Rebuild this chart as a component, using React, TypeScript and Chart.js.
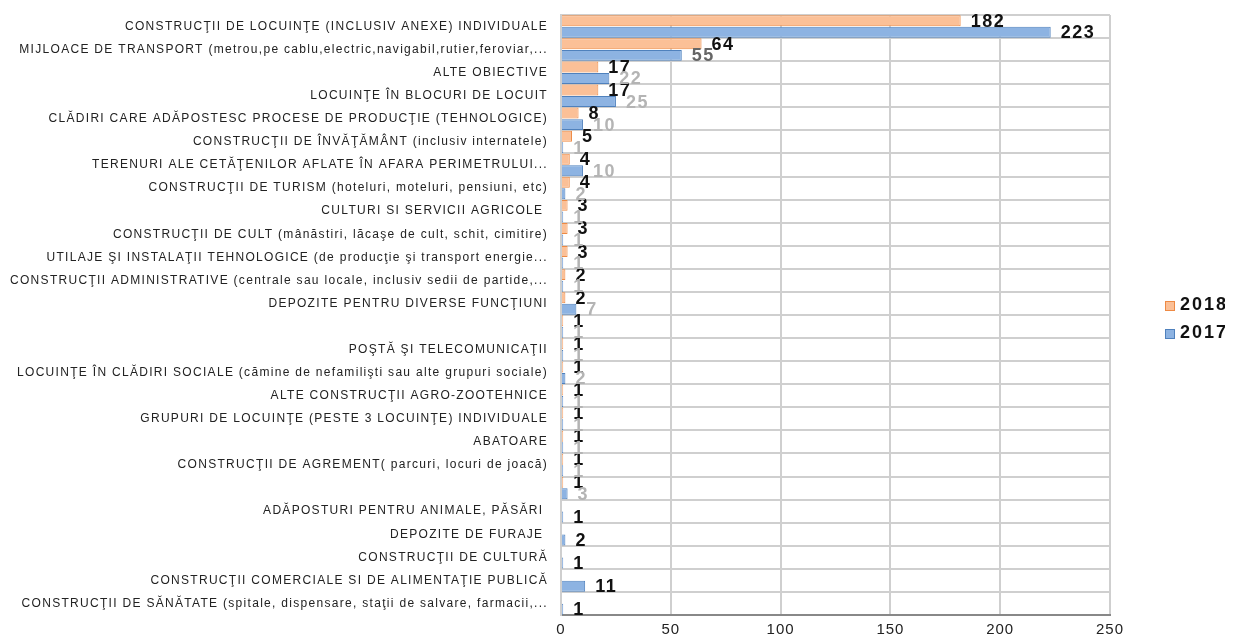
import React, { useEffect, useRef } from "react";
import { Chart, registerables } from "chart.js";

Chart.register(...registerables);

const categories: string[] = [
  "CONSTRUCŢII DE LOCUINŢE (INCLUSIV ANEXE) INDIVIDUALE",
  "MIJLOACE DE TRANSPORT (metrou,pe cablu,electric,navigabil,rutier,feroviar,...",
  "ALTE OBIECTIVE",
  "LOCUINŢE ÎN BLOCURI DE LOCUIT",
  "CLĂDIRI CARE ADĂPOSTESC PROCESE DE PRODUCŢIE (TEHNOLOGICE)",
  "CONSTRUCŢII DE ÎNVĂŢĂMÂNT (inclusiv internatele)",
  "TERENURI ALE CETĂŢENILOR AFLATE ÎN AFARA PERIMETRULUI...",
  "CONSTRUCŢII DE TURISM (hoteluri, moteluri, pensiuni, etc)",
  "CULTURI SI SERVICII AGRICOLE ",
  "CONSTRUCŢII DE CULT (mânăstiri, lăcaşe de cult, schit, cimitire)",
  "UTILAJE ŞI INSTALAŢII TEHNOLOGICE (de producţie şi transport energie...",
  "CONSTRUCŢII ADMINISTRATIVE (centrale sau locale, inclusiv sedii de partide,...",
  "DEPOZITE PENTRU DIVERSE FUNCŢIUNI",
  "",
  "POŞTĂ ŞI TELECOMUNICAŢII",
  "LOCUINŢE ÎN CLĂDIRI SOCIALE (cămine de nefamilişti sau alte grupuri sociale)",
  "ALTE CONSTRUCŢII AGRO-ZOOTEHNICE",
  "GRUPURI DE LOCUINŢE (PESTE 3 LOCUINŢE) INDIVIDUALE",
  "ABATOARE",
  "CONSTRUCŢII DE AGREMENT( parcuri, locuri de joacă)",
  "",
  "ADĂPOSTURI PENTRU ANIMALE, PĂSĂRI ",
  "DEPOZITE DE FURAJE ",
  "CONSTRUCŢII DE CULTURĂ",
  "CONSTRUCŢII COMERCIALE SI DE ALIMENTAŢIE PUBLICĂ",
  "CONSTRUCŢII DE SĂNĂTATE (spitale, dispensare, staţii de salvare, farmacii,...",
];

const values2018: (number | null)[] = [
  182, 64, 17, 17, 8, 5, 4, 4, 3, 3, 3, 2, 2, 1, 1, 1, 1, 1, 1, 1, 1,
  null, null, null, null, null,
];

const values2017: (number | null)[] = [
  223, 55, 22, 25, 10, 1, 10, 2, 1, 1, 1, 1, 7, 1, 1, 2, 1, 1, 1, 1, 3,
  1, 2, 1, 11, 1,
];

const seriesNames: string[] = ["2018", "2017"];
const xTicks: number[] = [0, 50, 100, 150, 200, 250];

const FONT = "'Liberation Sans', Arial, sans-serif";

function spacedLabels(scale: any, spacing: string) {
  if (scale.__ls) return;
  scale.__ls = true;
  const orig = scale.drawLabels.bind(scale);
  scale.drawLabels = (area: any) => {
    const c = scale.ctx;
    c.save();
    c.letterSpacing = spacing;
    orig(area);
    c.restore();
  };
}

const valueLabels = {
  id: "valueLabels",
  afterDatasetsDraw(chart: any) {
    const ctx = chart.ctx;
    ctx.save();
    ctx.font = `bold 18px ${FONT}`;
    ctx.letterSpacing = "1.5px";
    ctx.textBaseline = "middle";
    ctx.textAlign = "left";
    chart.data.datasets.forEach((ds: any, di: number) => {
      const meta = chart.getDatasetMeta(di);
      meta.data.forEach((el: any, i: number) => {
        const v = ds.data[i];
        if (v === null || v === undefined) return;
        const other = chart.data.datasets[0].data[i];
        let color = "#111";
        if (di === 1 && i > 0 && other !== null) color = i === 1 ? "#666" : "#b4b4b4";
        ctx.fillStyle = color;
        ctx.fillText(String(v), el.x + 10, el.y + 1);
      });
    });
    ctx.restore();
  },
  afterDraw(chart: any) {
    const ctx = chart.ctx;
    ctx.save();
    ctx.font = `bold 18px ${FONT}`;
    ctx.letterSpacing = "2px";
    ctx.textBaseline = "middle";
    ctx.textAlign = "left";
    const x0 = chart.chartArea.right + 55;
    const ys = [297, 325];
    chart.data.datasets.forEach((ds: any, di: number) => {
      const y = ys[di];
      ctx.fillStyle = ds.backgroundColor;
      ctx.strokeStyle = ds.borderColor;
      ctx.lineWidth = 1;
      ctx.fillRect(x0, y - 4, 10, 10);
      ctx.strokeRect(x0 + 0.5, y - 3.5, 9, 9);
      ctx.fillStyle = "#111";
      ctx.fillText(ds.label, x0 + 15, y);
    });
    ctx.restore();
  },
};

export default function App() {
  const ref = useRef<HTMLCanvasElement | null>(null);
  useEffect(() => {
    if (!ref.current) return;
    const chart = new Chart(ref.current, {
      type: "bar",
      data: {
        labels: categories,
        datasets: [
          {
            label: seriesNames[0],
            data: values2018,
            backgroundColor: "#FBC097",
            borderColor: "#EE8A44",
            borderWidth: 1,
            categoryPercentage: 1.0,
            barPercentage: 0.95,
          },
          {
            label: seriesNames[1],
            data: values2017,
            backgroundColor: "#8DB3E2",
            borderColor: "#4F81BD",
            borderWidth: 1,
            categoryPercentage: 1.0,
            barPercentage: 0.95,
          },
        ],
      },
      options: {
        indexAxis: "y",
        animation: false,
        responsive: true,
        maintainAspectRatio: false,
        layout: { padding: { top: 7, right: 115, left: 0, bottom: 0 } },
        scales: {
          x: {
            min: xTicks[0],
            max: xTicks[xTicks.length - 1],
            afterBuildTicks: (axis: any) => {
              axis.ticks = xTicks.map((v) => ({ value: v }));
            },
            afterFit: (scale: any) => {
              scale.height = 28;
              spacedLabels(scale, "1px");
            },
            grid: { color: "#cfcfcf", lineWidth: 2, drawTicks: false },
            border: { color: "#888", width: 2 },
            ticks: {
              color: "#222",
              padding: 6,
              font: { family: FONT, size: 15 },
            },
          },
          y: {
            afterFit: (scale: any) => {
              scale.width = 553;
              scale.paddingTop = 0;
              scale.paddingBottom = 0;
              spacedLabels(scale, "1.3px");
            },
            grid: { color: "#cfcfcf", lineWidth: 2, drawTicks: false, offset: true },
            border: { color: "#cfcfcf", width: 2 },
            ticks: {
              autoSkip: false,
              color: "#222",
              padding: 13,
              font: { family: FONT, size: 12 },
            },
          },
        },
        plugins: {
          legend: { display: false },
          tooltip: { enabled: false },
        },
      },
      plugins: [valueLabels],
    });
    return () => chart.destroy();
  }, []);
  return (
    <div style={{ position: "relative", width: "1217px", height: "635px" }}>
      <canvas ref={ref} />
    </div>
  );
}
